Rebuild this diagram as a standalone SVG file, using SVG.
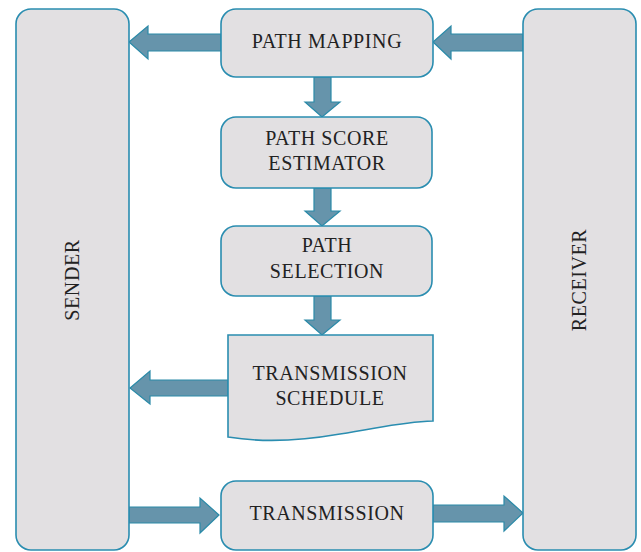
<svg xmlns="http://www.w3.org/2000/svg" width="641" height="552" viewBox="0 0 641 552">
  <style>
    .box { fill: #e2e0e2; stroke: #2a8db0; stroke-width: 1.6; }
    .arrow { fill: #6694ab; stroke: #2a8aa8; stroke-width: 1.2; stroke-linejoin: miter; }
    .label { font-family: "Liberation Serif", "Times New Roman", serif; font-size: 20px; letter-spacing: 0.6px; fill: #222; text-anchor: middle; }
  </style>
  <rect width="641" height="552" fill="#ffffff"/>

  <g id="connectors">
    <!-- path mapping to sender -->
    <polygon class="arrow" points="221,34 148,34 148,26 129,42 148,59 148,51 221,51"/>
    <!-- receiver to path mapping -->
    <polygon class="arrow" points="523,34 451,34 451,26 433,42 451,59 451,51 523,51"/>
    <!-- path mapping to path score estimator -->
    <polygon class="arrow" points="314,77 331,77 331,102 340,102 322,117 305,102 314,102"/>
    <!-- estimator to path selection -->
    <polygon class="arrow" points="314,188 331,188 331,211 340,211 322,226 305,211 314,211"/>
    <!-- path selection to schedule -->
    <polygon class="arrow" points="314,296 331,296 331,320 340,320 322,335 305,320 314,320"/>
    <!-- schedule to sender -->
    <polygon class="arrow" points="228,380 150,380 150,371 130,388 150,404 150,396 228,396"/>
    <!-- sender to transmission -->
    <polygon class="arrow" points="129,507 200,507 200,498 219,515 200,533 200,523 129,523"/>
    <!-- transmission to receiver -->
    <polygon class="arrow" points="433,505 504,505 504,496 523,513 504,531 504,522 433,522"/>
  </g>

  <g id="sender">
    <rect class="box" x="16" y="9" width="113" height="541" rx="15"/>
    <text class="label" transform="translate(79,280) rotate(-90)">SENDER</text>
  </g>

  <g id="receiver">
    <rect class="box" x="523" y="9" width="113" height="541" rx="15"/>
    <text class="label" transform="translate(586,280) rotate(-90)">RECEIVER</text>
  </g>

  <g id="path-mapping">
    <rect class="box" x="221" y="9" width="212" height="68" rx="15"/>
    <text class="label" x="327" y="48">PATH MAPPING</text>
  </g>

  <g id="path-score-estimator">
    <rect class="box" x="221" y="117" width="211" height="71" rx="15"/>
    <text class="label" x="327" y="145">PATH SCORE</text>
    <text class="label" x="327" y="170">ESTIMATOR</text>
  </g>

  <g id="path-selection">
    <rect class="box" x="221" y="226" width="211" height="70" rx="15"/>
    <text class="label" x="327" y="252">PATH</text>
    <text class="label" x="327" y="278">SELECTION</text>
  </g>

  <g id="transmission-schedule">
    <path class="box" d="M228,335 L433,335 L433,421 C400,422 380,428 340,434 C300,441 265,443 228,437 Z"/>
    <text class="label" x="330" y="380">TRANSMISSION</text>
    <text class="label" x="330" y="405">SCHEDULE</text>
  </g>

  <g id="transmission">
    <rect class="box" x="221" y="481" width="212" height="69" rx="15"/>
    <text class="label" x="327" y="520">TRANSMISSION</text>
  </g>
</svg>
